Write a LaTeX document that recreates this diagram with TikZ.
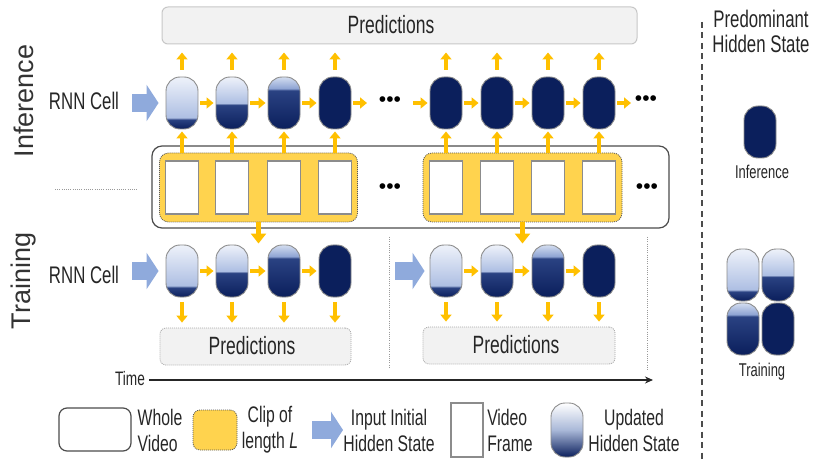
\documentclass[tikz,border=0pt]{standalone}
\usepackage{fontspec}
\setmainfont{Liberation Sans}[FakeStretch=0.70]
\newfontfamily\widefont{Liberation Sans}
\usetikzlibrary{arrows.meta}
\definecolor{navy}{HTML}{0B1F5C}
\definecolor{navyb}{HTML}{2A4282}
\definecolor{lbA}{HTML}{AEBFE3}
\definecolor{ltA}{HTML}{EEF2FA}
\definecolor{lbC}{HTML}{8EA4D3}
\definecolor{ltC}{HTML}{D3DDF0}
\definecolor{lbL}{HTML}{A9B8D8}
\definecolor{orangeA}{HTML}{FFC000}
\definecolor{clipfill}{HTML}{FFD34E}
\definecolor{blueA}{HTML}{8FAADC}
\definecolor{predfill}{HTML}{F2F2F2}
\definecolor{txt}{HTML}{262626}
\definecolor{cellborder}{HTML}{8C8C8C}
\pgfdeclareverticalshading{cellA}{100bp}{color(0bp)=(navy); color(25bp)=(navy); color(34bp)=(navyb); color(36bp)=(lbA); color(75bp)=(ltA); color(100bp)=(ltA)}
\pgfdeclareverticalshading{cellB}{100bp}{color(0bp)=(navy); color(25bp)=(navy); color(48bp)=(navyb); color(50bp)=(lbA); color(75bp)=(ltA); color(100bp)=(ltA)}
\pgfdeclareverticalshading{cellC}{100bp}{color(0bp)=(navy); color(25bp)=(navy); color(62bp)=(navyb); color(64bp)=(lbC); color(75bp)=(ltC); color(100bp)=(ltC)}
\pgfdeclareverticalshading{cellL}{100bp}{color(0bp)=(navy); color(25bp)=(navy); color(50bp)=(lbL); color(75bp)=(white); color(100bp)=(white)}
\begin{document}
\begin{tikzpicture}[x=1pt,y=-1pt,
  txtstyle/.style={text=txt, inner sep=0pt},
  cell/.style={rectangle, rounded corners=14pt, minimum width=32pt, minimum height=52pt, inner sep=0pt, draw=cellborder, line width=0.9pt},
  cA/.style={cell, shading=cellA},
  cB/.style={cell, shading=cellB},
  cC/.style={cell, shading=cellC},
  cD/.style={cell, fill=navy},
  cL/.style={cell, shading=cellL, minimum height=54pt},
  frame/.style={rectangle, draw=cellborder, line width=1.1pt, fill=white, minimum width=33pt, minimum height=53pt, inner sep=0pt},
  clipbox/.style={rectangle, rounded corners=9pt, fill=clipfill, draw=black!65, line width=0.8pt, dash pattern=on 1pt off 1pt, inner sep=0pt},
  videobox/.style={rectangle, rounded corners=10pt, fill=white, draw=black!70, line width=1.2pt, inner sep=0pt},
  predtop/.style={rectangle, rounded corners=6pt, fill=predfill, draw=black!22, line width=1pt, inner sep=0pt},
  predbot/.style={rectangle, rounded corners=6pt, fill=predfill, draw=black!35, line width=0.8pt, dash pattern=on 1pt off 1pt, inner sep=0pt},
  orarr/.style={color=orangeA, line width=4pt, -{Triangle[length=7pt,width=11pt]}},
  bigorarr/.style={color=orangeA, line width=5pt, -{Triangle[length=10pt,width=15pt]}},
  bluearr/.style={color=blueA, line width=18pt, -{Triangle[length=12pt,width=36pt]}},
  greydot/.style={draw=black!40, line width=0.8pt, dash pattern=on 1pt off 1.2pt},
  dotsnode/.style={text=black, inner sep=0pt, font=\widefont\fontsize{21}{21}\selectfont},
  big/.style={font=\fontsize{25}{28}\selectfont},
  lab/.style={font=\fontsize{22.5}{26}\selectfont},
  small/.style={font=\fontsize{18.5}{20}\selectfont}
]
\useasboundingbox (0,0) rectangle (816,462);

% ---------- boxes ----------
\node[predtop, minimum width=475pt, minimum height=37pt] (ptop) at (399.5,25.5) {};
\node[txtstyle, big] (ptoptxt) at (391,25) {Predictions};

\node[videobox, minimum width=517pt, minimum height=82pt] (wv) at (410.5,187) {};
\node[clipbox, minimum width=198pt, minimum height=69pt] (clip1) at (258.5,187.5) {};
\node[clipbox, minimum width=199pt, minimum height=69pt] (clip2) at (522.5,187.5) {};

\foreach \x [count=\i] in {182,232,284,335} {\node[frame] (fl\i) at (\x,187.5) {};}
\foreach \x [count=\i] in {446,497,548,599} {\node[frame] (fr\i) at (\x,187.5) {};}

\node[dotsnode] (d1) at (390,102) {•••};
\node[dotsnode] (d2) at (646,101) {•••};
\node[dotsnode] (d3) at (390,189) {•••};
\node[dotsnode] (d4) at (647,189) {•••};

\node[predbot, minimum width=191pt, minimum height=37pt] (pb1) at (255.5,346.5) {};
\node[txtstyle, big] (pb1txt) at (252,346) {Predictions};
\node[predbot, minimum width=192pt, minimum height=37pt] (pb2) at (519,345.5) {};
\node[txtstyle, big] (pb2txt) at (516,345) {Predictions};

% ---------- cells ----------
\node[cA] (i1) at (182,103) {};
\node[cB] (i2) at (232,103) {};
\node[cC] (i3) at (284,103) {};
\node[cD] (i4) at (335,103) {};
\foreach \x [count=\i] in {446,497,548,599} {\node[cD] (j\i) at (\x,103) {};}

\node[cA] (t1) at (182,271) {};
\node[cB] (t2) at (232,271) {};
\node[cC] (t3) at (284,271) {};
\node[cD] (t4) at (335,271) {};
\node[cA] (u1) at (446,271) {};
\node[cB] (u2) at (497,271) {};
\node[cC] (u3) at (548,271) {};
\node[cD] (u4) at (599,271) {};

% ---------- labels ----------
\node[txtstyle, rotate=90, font=\widefont\fontsize{27}{30}\selectfont, text=black!80] (inflab) at (24,101) {Inference};
\node[txtstyle, rotate=90, font=\widefont\fontsize{27}{30}\selectfont, text=black!80] (trlab) at (24,281) {Training};
\node[txtstyle, font=\fontsize{24}{26}\selectfont] (rnn1) at (84,101) {RNN Cell};
\node[txtstyle, font=\fontsize{24}{26}\selectfont] (rnn2) at (84,275) {RNN Cell};

% ---------- blue input arrows ----------
\coordinate (b1) at (132,103);
\coordinate (b2) at (132,271);
\coordinate (b3) at (395,271);
\draw[bluearr, shorten >=7pt] (b1) -- (i1.west);
\draw[bluearr, shorten >=7pt] (b2) -- (t1.west);
\draw[bluearr, shorten >=5pt] (b3) -- (u1.west);

% ---------- orange arrows: inference ----------
\foreach \a/\b in {i1/i2,i2/i3,i3/i4,j1/j2,j2/j3,j3/j4,t1/t2,t2/t3,t3/t4,u1/u2,u2/u3,u3/u4}
  {\draw[orarr, shorten <=2pt, shorten >=2pt] (\a.east) -- (\b.west);}
\coordinate (e1) at (367,103);
\coordinate (s2) at (413,103);
\coordinate (e2) at (631,103);
\draw[orarr, shorten <=2pt] (i4.east) -- (e1);
\draw[orarr, shorten >=2pt] (s2) -- (j1.west);
\draw[orarr, shorten <=2pt] (j4.east) -- (e2);

\foreach \c in {i1,i2,i3,i4,j1,j2,j3,j4}
  {\draw[orarr, shorten <=7pt, shorten >=8pt] (\c.north) -- (\c.north |- ptop.south);}
\foreach \i in {1,2,3,4}
  {\draw[orarr, shorten >=2pt] (fl\i.center |- clip1.north) -- (i\i.south);
   \draw[orarr, shorten >=2pt] (fr\i.center |- clip2.north) -- (j\i.south);}

% ---------- orange arrows: training ----------
\draw[bigorarr, shorten >=1pt] (clip1.south) -- (clip1.south |- t1.north);
\draw[bigorarr, shorten >=1pt] (clip2.south) -- (clip2.south |- u1.north);
\foreach \c in {t1,t2,t3,t4}
  {\draw[orarr, shorten <=5pt, shorten >=5pt] (\c.south) -- (\c.south |- pb1.north);}
\foreach \c in {u1,u2,u3,u4}
  {\draw[orarr, shorten <=5pt, shorten >=5pt] (\c.south) -- (\c.south |- pb2.north);}

% ---------- dotted guides ----------
\coordinate (g1) at (55,189);
\coordinate (g2) at (138,189);
\draw[greydot] (g1) -- (g2);
\coordinate (v1a) at (389,237);
\coordinate (v1b) at (389,368);
\coordinate (v2a) at (647,237);
\coordinate (v2b) at (647,370);
\draw[greydot] (v1a) -- (v1b);
\draw[greydot] (v2a) -- (v2b);

% ---------- time axis ----------
\node[txtstyle, font=\fontsize{19.5}{20}\selectfont] (time) at (130,379) {Time};
\coordinate (tend) at (653,380);
\draw[line width=1.3pt, black!85, -{Stealth[length=8pt,width=7pt]}] (time.east |- tend) ++(4,0) -- (tend);

% ---------- right panel ----------
\coordinate (dl1) at (702,22);
\coordinate (dl2) at (702,462);
\draw[black!70, line width=1.4pt, dash pattern=on 6pt off 4.5pt] (dl1) -- (dl2);
\node[txtstyle, align=center, font=\fontsize{24}{25}\selectfont] (pred) at (761,31) {Predominant\\Hidden State};
\node[cD] (pi) at (760,132) {};
\node[txtstyle, small] (pilab) at (762,172) {Inference};
\node[cA] (pt1) at (743,275) {};
\node[cB] (pt2) at (778,275) {};
\node[cC] (pt3) at (743,329) {};
\node[cD] (pt4) at (778,329) {};
\node[txtstyle, small] (ptlab) at (762,372) {Training};

% ---------- legend ----------
\node[videobox, rounded corners=8pt, minimum width=72pt, minimum height=43pt] (lg1) at (95,429.5) {};
\node[txtstyle, lab, align=left] (lg1t) at (160,430) {Whole\\Video};
\node[clipbox, rounded corners=7pt, minimum width=44pt, minimum height=40pt] (lg2) at (215,430) {};
\node[txtstyle, lab, align=center] (lg2t) at (270,430) {Clip of\\length \textit{L}};
\coordinate (lb) at (312,430);
\coordinate (lbe) at (343,430);
\draw[bluearr] (lb) -- (lbe);
\node[txtstyle, lab, align=center] (lg3t) at (389,430) {Input Initial\\Hidden State};
\node[frame, minimum width=32pt, minimum height=54pt] (lg4) at (467,430) {};
\node[txtstyle, lab, align=left] (lg4t) at (510,430) {Video\\Frame};
\node[cL] (lg5) at (567,430) {};
\node[txtstyle, lab, align=center] (lg5t) at (634,430) {Updated\\Hidden State};
\end{tikzpicture}
\end{document}
